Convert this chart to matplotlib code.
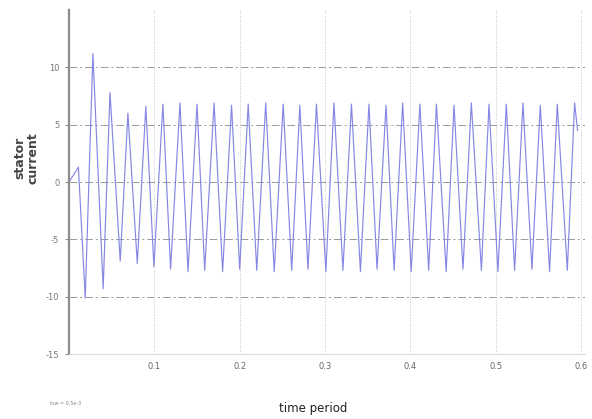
import matplotlib
matplotlib.use("Agg")
import matplotlib.pyplot as plt

# ---- data ----
start_t = [0.0, 0.011]
start_v = [0.0, 1.3]

trough_t = [0.019, 0.040, 0.060, 0.080, 0.0995, 0.119, 0.1395, 0.159, 0.180, 0.200,
            0.220, 0.2405, 0.261, 0.280, 0.301, 0.321, 0.3415, 0.361, 0.381, 0.401,
            0.4215, 0.442, 0.4617, 0.4833, 0.5027, 0.5222, 0.5425, 0.5632, 0.584]
trough_v = [-10.1, -9.3, -6.9, -7.1, -7.4, -7.6, -7.8, -7.7, -7.8, -7.6,
            -7.7, -7.8, -7.7, -7.6, -7.8, -7.7, -7.8, -7.6, -7.7, -7.8,
            -7.7, -7.8, -7.6, -7.7, -7.8, -7.7, -7.6, -7.8, -7.7]

peak_t = [0.028, 0.048, 0.069, 0.090, 0.110, 0.130, 0.150, 0.170, 0.1905, 0.210,
          0.2305, 0.251, 0.2705, 0.290, 0.3105, 0.331, 0.3515, 0.3715, 0.391, 0.4112,
          0.4306, 0.4512, 0.4715, 0.4922, 0.5125, 0.532, 0.5523, 0.5722, 0.5925]
peak_v = [11.2, 7.8, 6.0, 6.6, 6.8, 6.9, 6.8, 6.9, 6.7, 6.8,
          6.9, 6.8, 6.7, 6.8, 6.9, 6.8, 6.8, 6.7, 6.9, 6.8,
          6.8, 6.7, 6.9, 6.8, 6.8, 6.9, 6.7, 6.8, 6.9]

end_t = [0.596]
end_v = [4.5]

x_ticks = [0.1, 0.2, 0.3, 0.4, 0.5, 0.6]
x_ticklabels = ["0.1", "0.2", "0.3", "0.4", "0.5", "0.6"]
y_ticks = [-15, -10, -5, 0, 5, 10]
y_ticklabels = ["-15", "-10", "-5", "0", "5", "10"]

# build the series from the extrema (in time order)
t = list(start_t)
v = list(start_v)
for tt, tv, pt, pv in zip(trough_t, trough_v, peak_t, peak_v):
    t += [tt, pt]
    v += [tv, pv]
t += end_t
v += end_v

fig = plt.figure(figsize=(5.92, 4.19), dpi=100)
ax = fig.add_axes([0.1166, 0.155, 0.872, 0.821])

ax.plot(t, v, color="#8686e4", lw=0.85)

ax.set_xlim(0, 0.605)
ax.set_ylim(-15, 15)
ax.set_xticks(x_ticks)
ax.set_xticklabels(x_ticklabels)
ax.set_yticks(y_ticks)
ax.set_yticklabels(y_ticklabels)

for y in y_ticks[1:]:
    ax.axhline(y, color="#9a9a9a", lw=0.7, ls=(0, (8, 3, 2, 3)), zorder=0)
for x in x_ticks:
    ax.axvline(x, color="#c4c4c4", lw=0.7, ls=":", zorder=0)

for s in ["top", "right"]:
    ax.spines[s].set_visible(False)
ax.spines["left"].set_color("#8c8c8c")
ax.spines["left"].set_linewidth(1.6)
ax.spines["bottom"].set_color("#dddddd")
ax.spines["bottom"].set_linewidth(0.8)

ax.tick_params(axis="y", length=3, width=0.8, color="#8c8c8c",
               labelsize=6, labelcolor="#777777", pad=4)
ax.tick_params(axis="x", length=0, labelsize=6, labelcolor="#666666", pad=6)

fig.text(0.045, 0.623, "stator\ncurrent", rotation=90, ha="center", va="center",
         fontsize=9, fontweight="bold", color="#444444", linespacing=1.0)
fig.text(0.529, 0.026, "time period", ha="center", va="center", fontsize=8.5,
         color="#222222")
fig.text(0.085, 0.038, "tsw = 0.5e-3", ha="left", va="center", fontsize=3.5,
         color="#888888")

fig.savefig("out.png", dpi=100)
